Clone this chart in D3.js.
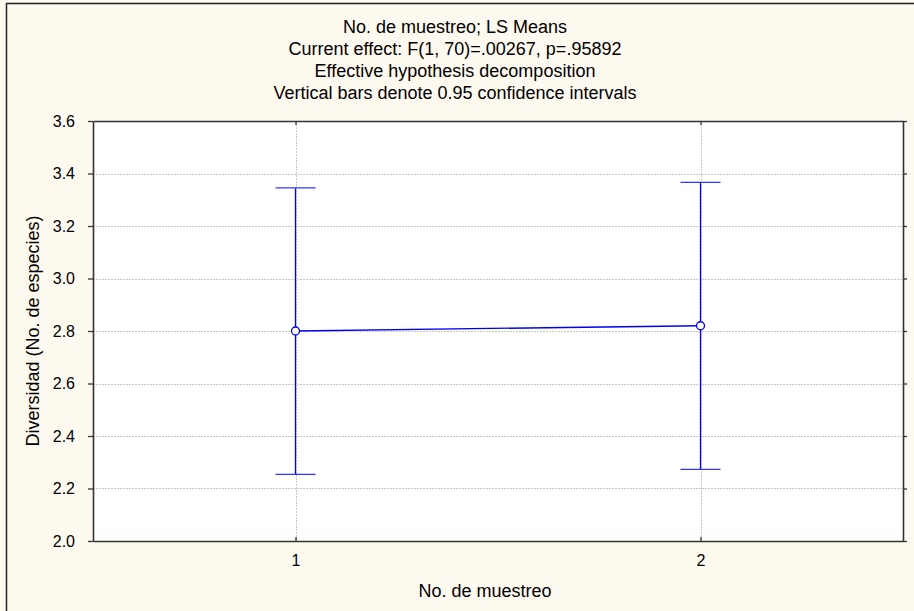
<!DOCTYPE html>
<html>
<head>
<meta charset="utf-8">
<script src="https://cdn.jsdelivr.net/npm/d3@7"></script>
<style>
  body { margin: 0; background: #fffaf0; }
  svg { display: block; }
  text { font-family: "Liberation Sans", Arial, sans-serif; fill: #000; }
</style>
</head>
<body>
<svg id="chart" width="914" height="611"></svg>
<script>
// values
var categories = [1, 2];
var means = [2.80, 2.82];
var upperCI = [3.345, 3.366];
var lowerCI = [2.254, 2.273];
var yTicks = [2.0, 2.2, 2.4, 2.6, 2.8, 3.0, 3.2, 3.4, 3.6];
var titleLines = [
    "No. de muestreo; LS Means",
    "Current effect: F(1, 70)=.00267, p=.95892",
    "Effective hypothesis decomposition",
    "Vertical bars denote 0.95 confidence intervals"
];
var xTitle = "No. de muestreo";
var yTitle = "Diversidad (No. de especies)";

var width = 914,
    height = 611,
    plotLeft = 93,
    plotRight = 903,
    plotTop = 121,
    plotBottom = 541;

var lineColor = "#0000ff";

var x = d3.scaleLinear().domain([0.5, 2.5]).range([plotLeft, plotRight]);
var y = d3.scaleLinear().domain([2.0, 3.6]).range([plotBottom, plotTop]);

var svg = d3.select("#chart");

// outer frame (only left and top edges show in the picture)
svg.append("rect")
    .attr("x", 6.5).attr("y", 3.5)
    .attr("width", width + 20).attr("height", height + 20)
    .attr("fill", "#fffaf0")
    .attr("stroke", "#222")
    .attr("stroke-width", 1.5);

// plot background
svg.append("rect")
    .attr("x", plotLeft).attr("y", plotTop)
    .attr("width", plotRight - plotLeft).attr("height", plotBottom - plotTop)
    .attr("fill", "#fff");

// grid
svg.append("g").selectAll("line")
    .data(yTicks.slice(1, -1))
    .enter().append("line")
    .attr("x1", plotLeft).attr("x2", plotRight)
    .attr("y1", function(d) { return Math.round(y(d)) + 0.5; })
    .attr("y2", function(d) { return Math.round(y(d)) + 0.5; })
    .attr("stroke", "#c8c8c8")
    .attr("stroke-dasharray", "2,1");

svg.append("g").selectAll("line")
    .data(categories)
    .enter().append("line")
    .attr("x1", function(d) { return Math.round(x(d)) + 0.5; })
    .attr("x2", function(d) { return Math.round(x(d)) + 0.5; })
    .attr("y1", plotTop).attr("y2", plotBottom)
    .attr("stroke", "#c8c8c8")
    .attr("stroke-dasharray", "2,1");

// axes
var yAxisLeft = d3.axisLeft(y).tickValues(yTicks).tickFormat(d3.format(".1f"))
    .tickSizeInner(5).tickSizeOuter(0).tickPadding(13);
var gyl = svg.append("g").attr("transform", "translate(" + plotLeft + ",0)").call(yAxisLeft);

var yAxisRight = d3.axisLeft(y).tickValues(yTicks).tickFormat("")
    .tickSizeInner(-4).tickSizeOuter(0);
var gyr = svg.append("g").attr("transform", "translate(" + plotRight + ",0)").call(yAxisRight);

var xAxisBottom = d3.axisBottom(x).tickValues(categories).tickFormat(d3.format("d"))
    .tickSizeInner(-4).tickSizeOuter(0).tickPadding(14);
var gxb = svg.append("g").attr("transform", "translate(0," + plotBottom + ")").call(xAxisBottom);

var xAxisTop = d3.axisTop(x).tickValues(categories).tickFormat("")
    .tickSizeInner(-4).tickSizeOuter(0);
var gxt = svg.append("g").attr("transform", "translate(0," + plotTop + ")").call(xAxisTop);

[gyl, gyr, gxb, gxt].forEach(function(g) {
    g.selectAll(".domain").attr("stroke", "#333").attr("stroke-width", 1.6);
    g.selectAll(".tick line").attr("stroke", "#333").attr("stroke-width", 1.3);
    g.selectAll(".tick text")
        .attr("font-family", "Liberation Sans, Arial, sans-serif")
        .attr("font-size", 16)
        .attr("fill", "#000");
});

// error bars
var bars = svg.append("g").selectAll("g")
    .data(categories)
    .enter().append("g");

bars.append("line")
    .attr("x1", function(d) { return x(d); })
    .attr("x2", function(d) { return x(d); })
    .attr("y1", function(d, i) { return y(upperCI[i]); })
    .attr("y2", function(d, i) { return y(lowerCI[i]); })
    .attr("stroke", lineColor).attr("stroke-width", 1.3);

bars.selectAll(".cap")
    .data(function(d, i) { return [{x: d, v: upperCI[i]}, {x: d, v: lowerCI[i]}]; })
    .enter().append("line")
    .attr("class", "cap")
    .attr("x1", function(d) { return x(d.x) - 20; })
    .attr("x2", function(d) { return x(d.x) + 20; })
    .attr("y1", function(d) { return y(d.v); })
    .attr("y2", function(d) { return y(d.v); })
    .attr("stroke", "#3333ff").attr("stroke-width", 1.3);

// mean line
var meanLine = d3.line()
    .x(function(d) { return x(d); })
    .y(function(d, i) { return y(means[i]); });

svg.append("path")
    .datum(categories)
    .attr("d", meanLine)
    .attr("fill", "none")
    .attr("stroke", lineColor)
    .attr("stroke-width", 1.3);

svg.append("g").selectAll("circle")
    .data(categories)
    .enter().append("circle")
    .attr("cx", function(d) { return x(d); })
    .attr("cy", function(d, i) { return y(means[i]); })
    .attr("r", 4)
    .attr("fill", "#fff")
    .attr("stroke", lineColor)
    .attr("stroke-width", 1.3);

// titles
svg.append("g").selectAll("text")
    .data(titleLines)
    .enter().append("text")
    .attr("x", 455)
    .attr("y", function(d, i) { return 33 + i * 22; })
    .attr("text-anchor", "middle")
    .attr("font-size", 18)
    .text(function(d) { return d; });

svg.append("text")
    .attr("x", 485)
    .attr("y", 597)
    .attr("text-anchor", "middle")
    .attr("font-size", 18)
    .text(xTitle);

svg.append("text")
    .attr("transform", "translate(39," + (plotTop + plotBottom) / 2 + ") rotate(-90)")
    .attr("text-anchor", "middle")
    .attr("font-size", 18)
    .text(yTitle);
</script>
</body>
</html>
